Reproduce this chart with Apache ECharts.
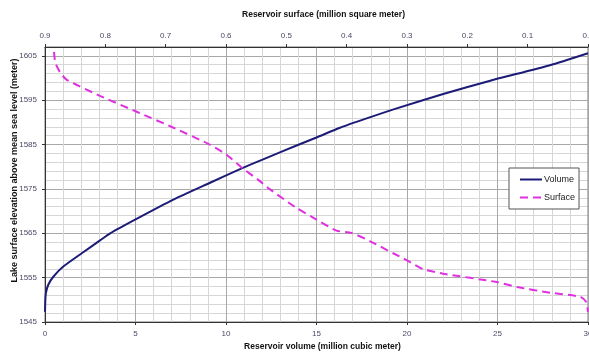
<!DOCTYPE html>
<html>
<head>
<meta charset="utf-8">
<script src="https://cdn.jsdelivr.net/npm/echarts@6/dist/echarts.min.js"></script>
<style>
html, body { margin: 0; padding: 0; background: #fff; }
#chart { width: 589px; height: 353px; }
</style>
</head>
<body>
<div id="chart"></div>
<script>
// volume curve (million m3) vs elevation (m)
const volumeX = [0, 0.02, 0.05, 0.18, 0.46, 1.01, 2.03, 3.04, 3.6, 5.03, 7.09, 9.12, 10.96, 12.25, 13.9, 15.0, 16.3, 17.77, 19.3, 22.0, 24.6, 27.9, 30.0];
const volumeElev = [1547.3, 1550, 1551.5, 1553.4, 1555.2, 1557.5, 1560.5, 1563.4, 1565.0, 1568.2, 1572.6, 1576.4, 1579.8, 1582.0, 1584.8, 1586.6, 1588.8, 1590.9, 1593.0, 1596.4, 1599.4, 1602.9, 1605.6];
// surface curve (million m2) vs elevation (m)
const surfaceX = [0.885, 0.883, 0.875, 0.864, 0.809, 0.748, 0.687, 0.63, 0.60, 0.572, 0.547, 0.527, 0.483, 0.45, 0.417, 0.392, 0.361, 0.323, 0.30, 0.273, 0.24, 0.151, 0.118, 0.063, 0.013, 0.003, 0];
const surfaceElev = [1605.9, 1603.5, 1601.3, 1599.6, 1596.0, 1592.4, 1588.8, 1585.2, 1582.8, 1579.6, 1577.1, 1574.9, 1570.7, 1568.1, 1565.6, 1565.1, 1563.2, 1560.5, 1558.9, 1556.9, 1555.9, 1554.0, 1552.9, 1551.6, 1550.7, 1549.5, 1547.3];

const labelColor = "#4a4a66";
const titleStyle = { fontFamily: "Liberation Sans", fontWeight: "bold", fontSize: 8.5, color: "#111" };

const chart = echarts.init(document.getElementById("chart"));
chart.setOption({
	animation: false,
	grid: { left: 45, right: 1, top: 47, bottom: 31, containLabel: false, outerBoundsMode: "none",
		show: true, borderColor: "#777", borderWidth: 1 },
	legend: {
		orient: "vertical",
		left: 509,
		top: 168,
		padding: [7, 4, 7, 10],
		itemGap: 9,
		itemWidth: 22,
		itemHeight: 8,
		backgroundColor: "#fff",
		borderColor: "#555",
		borderWidth: 1,
		itemStyle: { opacity: 0 },
		textStyle: { fontFamily: "Liberation Sans", fontSize: 9, color: "#222", padding: [0, 0, 0, -3] },
		data: ["Volume", "Surface"]
	},
	xAxis: [
		{
			type: "value",
			position: "bottom",
			min: 0,
			max: 30,
			interval: 5,
			name: "Reservoir volume (million cubic meter)",
			nameLocation: "middle",
			nameGap: 20,
			nameMoveOverlap: false,
			nameTextStyle: Object.assign({ padding: [0, 0, 0, 12] }, titleStyle),
			axisLine: { show: true, lineStyle: { color: "#333" } },
			axisTick: { show: true, length: 3, lineStyle: { color: "#333" } },
			axisLabel: { fontFamily: "Liberation Sans", fontSize: 8, color: labelColor, margin: 8 },
			splitLine: { show: true, lineStyle: { color: "#a8a8a8", width: 1 } },
			minorTick: { show: false, splitNumber: 5 },
			minorSplitLine: { show: true, lineStyle: { color: "#d6d6d6", width: 1 } }
		},
		{
			type: "value",
			position: "top",
			inverse: true,
			min: 0,
			max: 0.9,
			interval: 0.1,
			name: "Reservoir surface (million square meter)",
			nameLocation: "middle",
			nameGap: 28,
			nameMoveOverlap: false,
			nameTextStyle: Object.assign({ padding: [0, 0, 0, 14] }, titleStyle),
			axisLine: { show: true, lineStyle: { color: "#333" } },
			axisTick: { show: true, length: 3, lineStyle: { color: "#333" } },
			axisLabel: { fontFamily: "Liberation Sans", fontSize: 8, color: labelColor, margin: 7,
				formatter: v => v.toFixed(1) },
			splitLine: { show: false }
		}
	],
	yAxis: [
		{
			type: "value",
			min: 1545,
			max: 1607,
			interval: 10,
			name: "Lake surface elevation above mean sea level (meter)",
			nameLocation: "middle",
			nameGap: 26,
			nameMoveOverlap: false,
			nameTextStyle: Object.assign({ padding: [0, 0, 0, 28] }, titleStyle, { fontSize: 9 }),
			axisLine: { show: true, lineStyle: { color: "#333" } },
			axisTick: { show: true, length: 3, lineStyle: { color: "#333" } },
			axisLabel: { fontFamily: "Liberation Sans", fontSize: 8, color: labelColor, margin: 8, showMaxLabel: false,
				formatter: v => String(v) },
			splitLine: { show: true, lineStyle: { color: "#a8a8a8", width: 1 } }
		},
		{
			type: "value",
			position: "left",
			min: 1545,
			max: 1607,
			interval: 2,
			axisLine: { show: false },
			axisTick: { show: false },
			axisLabel: { show: false },
			splitLine: { show: true, lineStyle: { color: "#d6d6d6", width: 1 } },
			z: -1
		}
	],
	series: [
		{
			name: "Volume",
			type: "line",
			xAxisIndex: 0,
			yAxisIndex: 0,
			showSymbol: false,
			symbol: "none",
			smooth: 0.2,
			data: volumeX.map((v, i) => [v, volumeElev[i]]),
			lineStyle: { color: "#1c1c78", width: 2 },
			itemStyle: { color: "#1c1c78" }
		},
		{
			name: "Surface",
			type: "line",
			xAxisIndex: 1,
			yAxisIndex: 0,
			showSymbol: false,
			symbol: "none",
			smooth: 0.2,
			data: surfaceX.map((v, i) => [v, surfaceElev[i]]),
			lineStyle: { color: "#e030e0", width: 2, type: [8, 5] },
			itemStyle: { color: "#e030e0" }
		}
	]
});
</script>
</body>
</html>
